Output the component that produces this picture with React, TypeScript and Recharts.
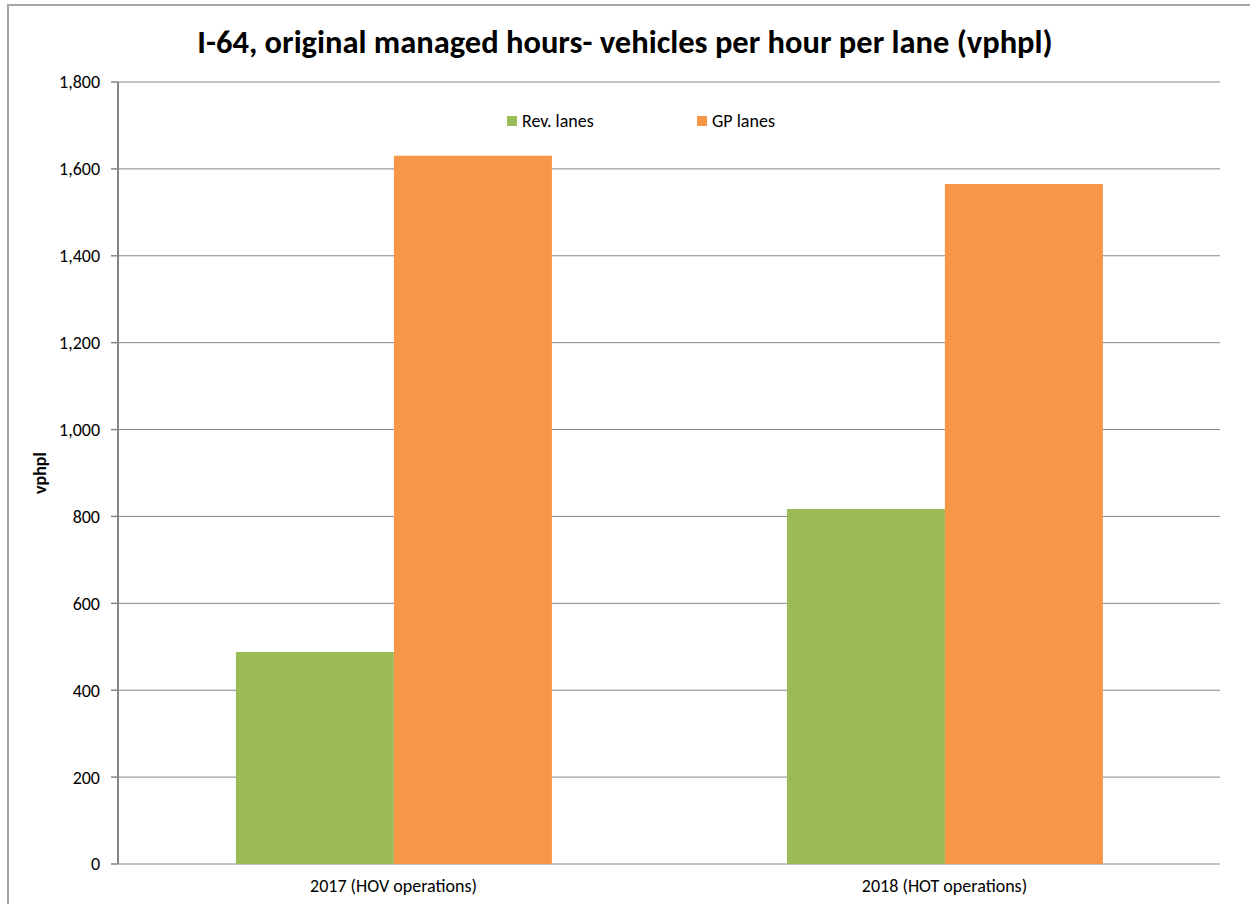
import React from 'react';
import { BarChart, Bar, XAxis, YAxis, CartesianGrid } from 'recharts';

const categories = ['2017 (HOV operations)', '2018 (HOT operations)'];
const revLanes = [488, 817];
const gpLanes = [1630, 1565];
const yTicks = [0, 200, 400, 600, 800, 1000, 1200, 1400, 1600, 1800];
const boundaryTicks = [0, 1, 2];
const seriesNames = ['Rev. lanes', 'GP lanes'];
const seriesColors = ['#9BBB59', '#F79646'];
const title = 'I-64, original managed hours- vehicles per hour per lane (vphpl)';
const yLabel = 'vphpl';

const data = categories.map((c, i) => ({ category: c, rev: revLanes[i], gp: gpLanes[i] }));

const FONT = 'Carlito, "Open Sans", sans-serif';
const AXIS = '#868686';

export default function App() {
  return (
    <div style={{ position: 'absolute', left: 0, top: 0, width: 1250, height: 904, background: '#fff', overflow: 'hidden' }}>
      <div style={{ position: 'absolute', left: 7, top: 4, width: 1260, height: 920, border: '2px solid #a6a6a6' }} />
      <div
        style={{
          position: 'absolute', left: 0, top: 21, width: 1250, textAlign: 'center',
          fontFamily: FONT, fontWeight: 700, fontSize: 32.5, color: '#000', lineHeight: '42px', whiteSpace: 'nowrap',
        }}
      >
        {title}
      </div>
      <div style={{ position: 'absolute', left: 0, top: 0 }}>
        <BarChart
          width={1250}
          height={904}
          data={data}
          margin={{ top: 82, right: 30, bottom: 0, left: 0 }}
          barCategoryGap="21.4%"
          barGap={0}
        >
          <CartesianGrid vertical={false} stroke={AXIS} strokeWidth={1} />
          <XAxis
            xAxisId="edges"
            type="number"
            domain={[0, 2]}
            ticks={boundaryTicks}
            height={0}
            axisLine={{ stroke: AXIS, strokeWidth: 2 }}
            tickLine={{ stroke: AXIS, strokeWidth: 1.5 }}
            tickSize={6}
            tickFormatter={() => ''}
          />
          <XAxis
            dataKey="category"
            xAxisId="main"
            height={40}
            axisLine={false}
            tickLine={false}
            tickSize={6}
            tickMargin={9}
            tick={{ fill: '#000', fontSize: 18, fontFamily: FONT }}
          />
          <YAxis
            width={118}
            domain={[0, 1800]}
            ticks={yTicks}
            interval={0}
            axisLine={{ stroke: AXIS, strokeWidth: 2 }}
            tickLine={{ stroke: AXIS, strokeWidth: 1.5 }}
            tickSize={7}
            tickMargin={11}
            tickFormatter={(v: number) => v.toLocaleString('en-US')}
            tick={{ fill: '#000', fontSize: 18, fontFamily: FONT }}
            label={{
              value: yLabel, angle: -90, position: 'insideLeft', offset: 40,
              style: { textAnchor: 'middle', fontWeight: 700, fontSize: 18, fontFamily: FONT, fill: '#000' },
            }}
          />
          <Bar xAxisId="main" dataKey="rev" name={seriesNames[0]} fill={seriesColors[0]} isAnimationActive={false} />
          <Bar xAxisId="main" dataKey="gp" name={seriesNames[1]} fill={seriesColors[1]} isAnimationActive={false} />
        </BarChart>
      </div>
      <div
        style={{
          position: 'absolute', left: 507, top: 110, height: 22, display: 'flex', alignItems: 'center',
          fontFamily: FONT, fontSize: 18, color: '#000',
        }}
      >
        {seriesNames.map((n, i) => (
          <div key={n} style={{ width: 190, display: 'flex', alignItems: 'center' }}>
            <span style={{ display: 'inline-block', width: 10, height: 10, background: seriesColors[i], marginRight: 5 }} />
            <span>{n}</span>
          </div>
        ))}
      </div>
    </div>
  );
}
